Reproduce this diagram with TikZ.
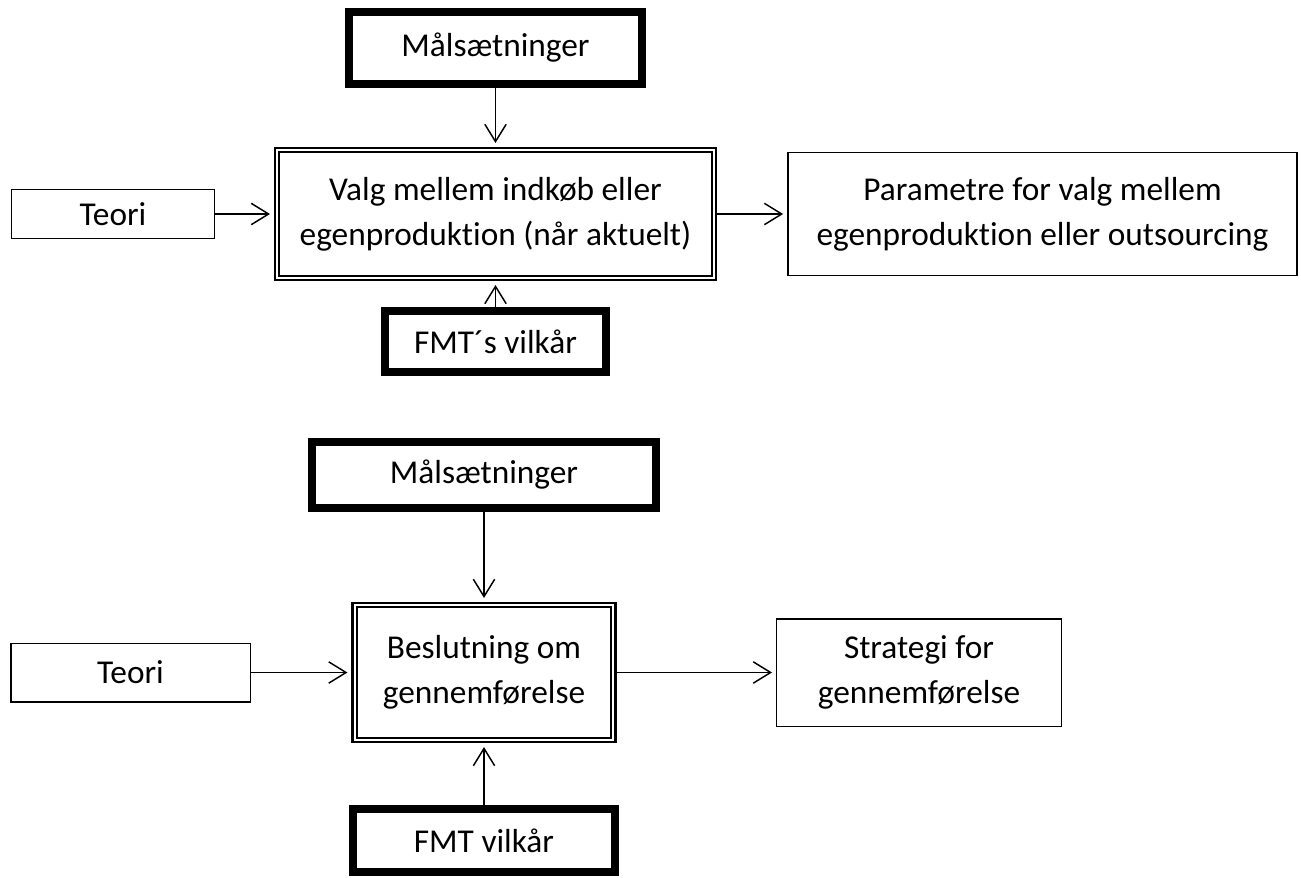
\documentclass[tikz,border=0pt]{standalone}
\usepackage{fontspec}
\setmainfont{Carlito}[Ligatures=NoCommon]
\usetikzlibrary{positioning,arrows.meta}

\begin{document}
\begin{tikzpicture}[x=0.75pt,y=-0.75pt,font=\fontsize{25}{34}\selectfont]
\tikzstyle{thin box}=[draw,line width=1.1pt,align=center,inner sep=0]
\tikzstyle{thick box}=[draw,line width=6pt,align=center,inner sep=0]
\tikzstyle{double box}=[draw,line width=1.6pt,double,double distance=1.6pt,outer sep=2.4pt,align=center,inner sep=0]
\tikzstyle{flow}=[-{Straight Barb[length=13pt,width=16pt]},line width=1.1pt,shorten >=3pt]
\useasboundingbox (0,0) rectangle (1301,877);
% first decision
\node(mal1)[thick box,minimum width=220pt,minimum height=54pt] at (495.5,48) {Målsætninger};
\node(valg)[double box,minimum width=327.5pt,minimum height=95.7pt] at (495.5,214) {Valg mellem indkøb eller\\egenproduktion (når aktuelt)};
\node(teori1)[thin box,minimum width=152pt,minimum height=36.4pt] at (113,214) {Teori};
\node(param)[thin box,minimum width=382pt,minimum height=92pt] at (1042.5,214) {Parametre for valg mellem\\egenproduktion eller outsourcing};
\node(fmt1)[thick box,minimum width=166pt,minimum height=46pt] at (495.5,341.5) {FMT´s vilkår};
\draw[flow] (mal1) -- (valg);
\draw[flow] (teori1) -- (valg);
\draw[flow] (valg) -- (param);
\draw[flow] (fmt1) -- (valg);
% second decision
\node(mal2)[thick box,minimum width=258pt,minimum height=49.5pt] at (484,475) {Målsætninger};
\node(besl)[double box,minimum width=194pt,minimum height=101pt] at (484,672.5) {Beslutning om\\gennemførelse};
\node(teori2)[thin box,minimum width=179.6pt,minimum height=43.9pt] at (130.5,672.5) {Teori};
\node(strat)[thin box,minimum width=213.4pt,minimum height=80.6pt] at (919,672.5) {Strategi for\\gennemførelse};
\node(fmt2)[thick box,minimum width=196.5pt,minimum height=47.3pt] at (484,840.5) {FMT vilkår};
\draw[flow] (mal2) -- (besl);
\draw[flow] (teori2) -- (besl);
\draw[flow] (besl) -- (strat);
\draw[flow] (fmt2) -- (besl);
\end{tikzpicture}
\end{document}
